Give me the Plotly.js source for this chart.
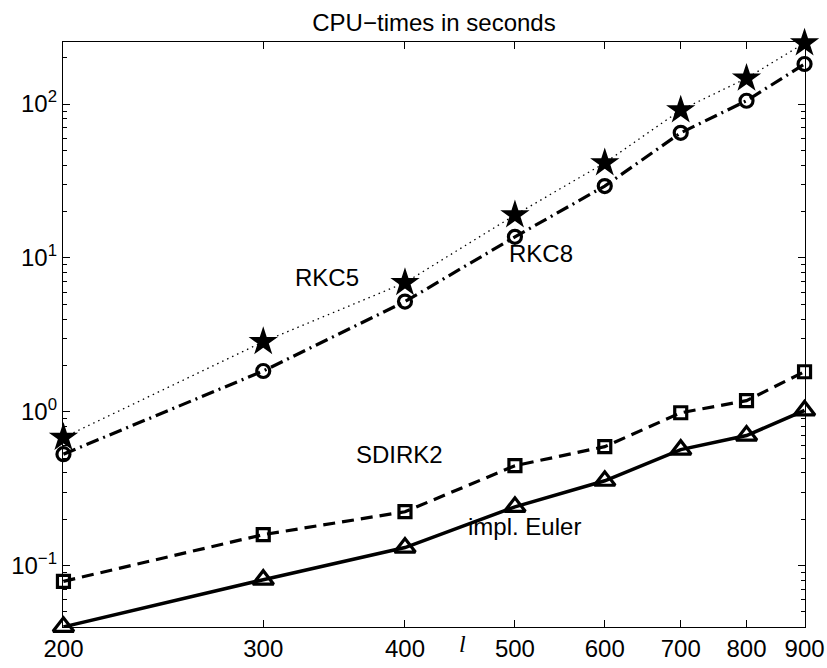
<!DOCTYPE html>
<html>
<head>
<meta charset="utf-8">
<script src="https://cdn.plot.ly/plotly-3.0.1.min.js"></script>
<style>html,body{margin:0;padding:0;background:#fff;}#chart{width:827px;height:668px;}</style>
</head>
<body>
<div id="chart"></div>
<script>
// ---- data ----
var sizes = [200, 300, 400, 500, 600, 700, 800, 900];
var rkc5 = [0.68, 2.85, 6.9, 19.0, 41.4, 91.4, 147, 249];
var rkc8 = [0.53, 1.84, 5.2, 13.7, 29.3, 65, 105, 182];
var sdirk2 = [0.079, 0.159, 0.224, 0.446, 0.593, 0.985, 1.18, 1.82];
var implEuler = [0.040, 0.081, 0.131, 0.241, 0.356, 0.567, 0.70, 1.02];
var xTickVals = [200, 300, 400, 500, 600, 700, 800, 900];
var yTickVals = [0.1, 1, 10, 100];
var yTickText = ['10<sup>\u22121</sup>', '10<sup>0</sup>', '10<sup>1</sup>', '10<sup>2</sup>'];
var titleText = 'CPU\u2212times in seconds';
var labelNames = ['RKC5', 'RKC8', 'SDIRK2', 'impl. Euler'];

// minor log ticks (2..9 per decade)
var minorVals = [];
for (var k = -2; k <= 2; k++) {
  for (var m = 2; m <= 9; m++) minorVals.push(m * Math.pow(10, k));
}

var FONT = 'Liberation Sans, Arial, Helvetica, sans-serif';
var FS = 24;

var traces = [
  {x: sizes, y: rkc5, mode: 'lines+markers', name: 'RKC5', cliponaxis: false,
   line: {color: '#000', width: 1.3, dash: '1.5px,4px'},
   marker: {symbol: 'star', size: 22, color: '#000', line: {width: 0}}},
  {x: sizes, y: rkc8, mode: 'lines+markers', name: 'RKC8', cliponaxis: false,
   line: {color: '#000', width: 3.2, dash: '13px,5px,2px,5px'},
   marker: {symbol: 'circle-open', size: 13, color: '#000', line: {width: 3.2, color: '#000'}}},
  {x: sizes, y: sdirk2, mode: 'lines+markers', name: 'SDIRK2', cliponaxis: false,
   line: {color: '#000', width: 3.2, dash: '12px,7px'},
   marker: {symbol: 'square-open', size: 12, color: '#000', line: {width: 3.2, color: '#000'}}},
  {x: sizes, y: implEuler, mode: 'lines+markers', name: 'impl. Euler', cliponaxis: false,
   line: {color: '#000', width: 3.5},
   marker: {symbol: 'triangle-up-open', size: 18, color: '#000', line: {width: 3.2, color: '#000'}}}
];

var layout = {
  width: 827, height: 668,
  margin: {l: 63, r: 22, t: 42, b: 41},
  paper_bgcolor: '#fff', plot_bgcolor: '#fff',
  showlegend: false,
  font: {family: FONT, size: FS, color: '#000'},
  title: {text: titleText, font: {family: FONT, size: FS, color: '#000'},
          x: 0.5, xref: 'paper', y: 0.966, yanchor: 'middle'},
  xaxis: {
    type: 'log', range: [Math.log10(200) - 0.0004, Math.log10(900) + 0.0004],
    tickvals: xTickVals, ticktext: xTickVals.map(String),
    ticks: 'inside', ticklen: 7, tickwidth: 1, tickcolor: '#000',
    showline: true, linecolor: '#000', linewidth: 1.2, mirror: 'ticks',
    showgrid: false, zeroline: false,
    tickfont: {family: FONT, size: FS, color: '#000'}
  },
  yaxis: {
    type: 'log', range: [Math.log10(0.0399), Math.log10(253)],
    tickvals: yTickVals, ticktext: yTickText,
    ticks: 'inside', ticklen: 7, tickwidth: 1, tickcolor: '#000',
    showline: true, linecolor: '#000', linewidth: 1.2, mirror: 'ticks',
    showgrid: false, zeroline: false,
    tickfont: {family: FONT, size: FS, color: '#000'},
    minor: {tickvals: minorVals, ticks: 'inside', ticklen: 4, tickwidth: 1, tickcolor: '#000', showgrid: false}
  },
  annotations: [
    {text: labelNames[0], xref: 'paper', yref: 'paper', x: 0.356, y: 0.598, showarrow: false, font: {family: FONT, size: FS}},
    {text: labelNames[1], xref: 'paper', yref: 'paper', x: 0.690, y: 0.639, showarrow: false, font: {family: FONT, size: FS}},
    {text: labelNames[2], xref: 'paper', yref: 'paper', x: 0.454, y: 0.268, showarrow: false, font: {family: FONT, size: FS}},
    {text: labelNames[3], xref: 'paper', yref: 'paper', x: 0.622, y: 0.145, showarrow: false, font: {family: FONT, size: FS}},
    {text: '<i>l</i>', xref: 'paper', yref: 'paper', x: 0.539, y: -0.055, showarrow: false,
     font: {family: 'Liberation Serif, Times New Roman, serif', size: FS}}
  ]
};

Plotly.newPlot('chart', traces, layout, {staticPlot: true, displayModeBar: false});
</script>
</body>
</html>
